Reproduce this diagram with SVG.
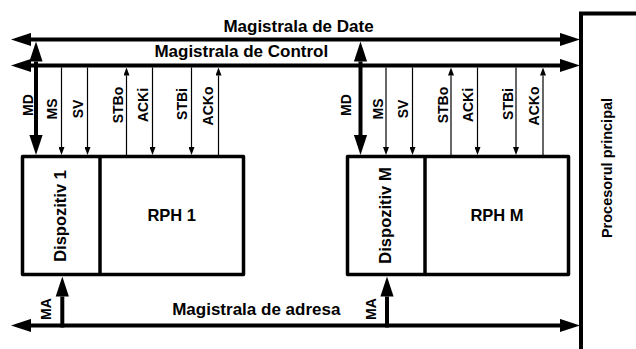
<svg xmlns="http://www.w3.org/2000/svg" width="636" height="349" viewBox="0 0 636 349">
<style>
text{font-family:"Liberation Sans",Arial,sans-serif;font-weight:bold;fill:#000}
.bus{font-size:17px}
.lbl{font-size:16.5px}
.sig{font-size:14px}
.box{fill:none;stroke:#000;stroke-width:3.5;stroke-linejoin:round}
.thick{stroke:#000;stroke-width:4;fill:none}
.thin{stroke:#000;stroke-width:1.2;fill:none}
</style>
<defs>
<marker id="big" markerUnits="userSpaceOnUse" markerWidth="20" markerHeight="14" viewBox="0 -7 20 14" refX="0" refY="0" orient="auto-start-reverse"><path d="M0,-6.6 L20,0 L0,6.6 z" fill="#000"/></marker>
<marker id="small" markerUnits="userSpaceOnUse" markerWidth="8" markerHeight="6" viewBox="0 -3 8 6" refX="0" refY="0" orient="auto"><path d="M0,-3 L8,0 L0,3 z" fill="#000"/></marker>
</defs>
<rect width="636" height="349" fill="#fff"/>

<g id="cpu">
<path d="M581,352 V13.5 H640" class="thick"/>
<text class="lbl" style="font-size:14.5px" text-anchor="middle" transform="translate(612,168) rotate(-90)">Procesorul principal</text>
</g>

<g id="dev1">
<rect x="22.5" y="156.5" width="221" height="118" class="box"/>
<line x1="100" y1="156.5" x2="100" y2="274.5" class="box"/>
<text class="lbl" text-anchor="middle" transform="translate(66,216) rotate(-90)">Dispozitiv 1</text>
</g>
<g id="rph1">
<text class="lbl" x="171.7" y="221" text-anchor="middle">RPH 1</text>
</g>

<g id="devM">
<rect x="347.5" y="156.5" width="221" height="118" class="box"/>
<line x1="425" y1="156.5" x2="425" y2="274.5" class="box"/>
<text class="lbl" text-anchor="middle" transform="translate(391,215.5) rotate(-90)">Dispozitiv M</text>
</g>
<g id="rphM">
<text class="lbl" x="497" y="221" text-anchor="middle">RPH M</text>
</g>

<g id="connectors">
<!-- buses -->
<line x1="31" y1="39.5" x2="560" y2="39.5" class="thick" marker-start="url(#big)" marker-end="url(#big)"/>
<text class="bus" x="298.5" y="32" text-anchor="middle">Magistrala de Date</text>
<line x1="31" y1="65.5" x2="560" y2="65.5" class="thick" marker-start="url(#big)" marker-end="url(#big)"/>
<text class="bus" x="241.3" y="57" text-anchor="middle">Magistrala de Control</text>
<line x1="31" y1="325.5" x2="560" y2="325.5" class="thick" marker-start="url(#big)" marker-end="url(#big)"/>
<text class="bus" x="256.3" y="315" text-anchor="middle">Magistrala de adresa</text>

<!-- device 1 signals -->
<line x1="36" y1="61.5" x2="36" y2="135" class="thick" marker-start="url(#big)" marker-end="url(#big)"/>
<line x1="61.5" y1="67.5" x2="61.5" y2="147" class="thin" marker-end="url(#small)"/>
<line x1="87.5" y1="67.5" x2="87.5" y2="147" class="thin" marker-end="url(#small)"/>
<line x1="126.5" y1="155" x2="126.5" y2="75.5" class="thin" marker-end="url(#small)"/>
<line x1="152.5" y1="67.5" x2="152.5" y2="147" class="thin" marker-end="url(#small)"/>
<line x1="191.5" y1="67.5" x2="191.5" y2="147" class="thin" marker-end="url(#small)"/>
<line x1="218.5" y1="155" x2="218.5" y2="75.5" class="thin" marker-end="url(#small)"/>
<line x1="62.3" y1="327.5" x2="62.3" y2="296.5" class="thick" marker-end="url(#big)"/>
<text class="sig" text-anchor="middle" transform="translate(33.3,105) rotate(-90)">MD</text>
<text class="sig" text-anchor="middle" transform="translate(56.7,109) rotate(-90)">MS</text>
<text class="sig" text-anchor="middle" transform="translate(83.3,109) rotate(-90)">SV</text>
<text class="sig" text-anchor="middle" transform="translate(123.3,105) rotate(-90)">STBo</text>
<text class="sig" text-anchor="middle" transform="translate(148,105) rotate(-90)">ACKi</text>
<text class="sig" text-anchor="middle" transform="translate(186.7,104) rotate(-90)">STBi</text>
<text class="sig" text-anchor="middle" transform="translate(213,106) rotate(-90)">ACKo</text>
<text class="sig" text-anchor="middle" transform="translate(51,309) rotate(-90)">MA</text>

<!-- device M signals -->
<line x1="360.5" y1="61.5" x2="360.5" y2="135" class="thick" marker-start="url(#big)" marker-end="url(#big)"/>
<line x1="386" y1="67.5" x2="386" y2="147" class="thin" marker-end="url(#small)"/>
<line x1="412.5" y1="67.5" x2="412.5" y2="147" class="thin" marker-end="url(#small)"/>
<line x1="451" y1="155" x2="451" y2="75.5" class="thin" marker-end="url(#small)"/>
<line x1="477.5" y1="67.5" x2="477.5" y2="147" class="thin" marker-end="url(#small)"/>
<line x1="516" y1="67.5" x2="516" y2="147" class="thin" marker-end="url(#small)"/>
<line x1="543" y1="155" x2="543" y2="75.5" class="thin" marker-end="url(#small)"/>
<line x1="387" y1="327.5" x2="387" y2="296.5" class="thick" marker-end="url(#big)"/>
<text class="sig" text-anchor="middle" transform="translate(351,105) rotate(-90)">MD</text>
<text class="sig" text-anchor="middle" transform="translate(382.7,109) rotate(-90)">MS</text>
<text class="sig" text-anchor="middle" transform="translate(407.7,109) rotate(-90)">SV</text>
<text class="sig" text-anchor="middle" transform="translate(447.7,105) rotate(-90)">STBo</text>
<text class="sig" text-anchor="middle" transform="translate(472.7,105) rotate(-90)">ACKi</text>
<text class="sig" text-anchor="middle" transform="translate(512.7,104) rotate(-90)">STBi</text>
<text class="sig" text-anchor="middle" transform="translate(538.7,106) rotate(-90)">ACKo</text>
<text class="sig" text-anchor="middle" transform="translate(376,309) rotate(-90)">MA</text>
</g>
</svg>
